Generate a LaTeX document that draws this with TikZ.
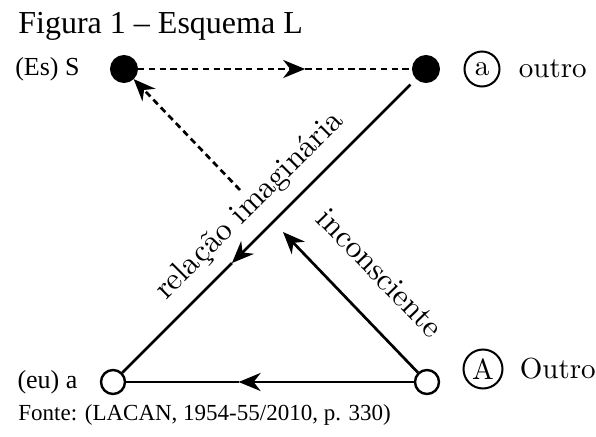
\documentclass[tikz,border=0pt]{standalone}
\usepackage{fontspec}
\newfontfamily\timesfont{Liberation Serif}
\newfontfamily\lmfont{lmroman10-regular}[Extension=.otf]
\usetikzlibrary{arrows.meta,calc,positioning}
\newcommand\lmlabel{\lmfont\fontsize{14.5}{17}\selectfont}
\newcommand\lmslope{\lmfont\fontsize{15.8}{19}\selectfont}
\tikzset{
  every node/.style={text=black},
  dot/.style={circle, draw, fill=black, line width=1pt,
    minimum size=13pt, inner sep=0pt},
  ring/.style={circle, draw, fill=white, line width=1.2pt,
    minimum size=12pt, inner sep=0pt},
  letter/.style={circle, draw, line width=1pt, inner sep=0pt,
    font=\lmlabel},
  lab/.style={font=\lmlabel, inner sep=0pt},
  slope/.style={font=\lmslope, inner sep=0pt},
  side/.style={font=\timesfont\fontsize{13}{15}\selectfont, inner sep=0pt},
  caption/.style={font=\timesfont\fontsize{16}{19}\selectfont, inner sep=0pt},
  link/.style={line width=1.35pt},
  dashlink/.style={link, dash pattern=on 3.2pt off 2.2pt},
  headed/.style={-{Stealth[length=11pt,width=9pt,inset=3.5pt]}}
}
\begin{document}
\begin{tikzpicture}[x=0.5pt,y=0.5pt]
\useasboundingbox (0,0) rectangle (596,436);

% Title and source
\node[caption, anchor=base west] (title) at (18,403) {Figura 1 – Esquema L};
\node[side, font=\timesfont\fontsize{11.5}{14}\selectfont, anchor=base west]
  (source) at (18,16) {Fonte: (LACAN, 1954-55/2010, p. 330)};

% The four corners of the schema
\node[dot] (S) at (124,367) {};
\node[dot] (ap) at (426,367) {};
\node[ring] (ego) at (113,54) {};
\node[ring] (A) at (427,54) {};

\node[side, left=15pt of S] (Slab) {(Es) S};
\node[side, left=11pt of ego] (egolab) {(eu) a};
\node[letter, minimum size=17.5pt] (la) at (482,367) {a};
\node[lab, right=9pt of la] (outro) {outro};
\node[letter, minimum size=19.5pt] (lA) at (483,67) {A};
\node[lab, right=8pt of lA] (Outro) {Outro};

% Connectors
\coordinate (m1) at ($(S)!0.6!(ap)$);
\draw[dashlink, headed] (S) -- (m1);
\draw[dashlink] (m1) -- (ap);

\coordinate (d0) at (240,246);
\draw[dashlink, headed] (d0) -- (S);

\coordinate (m2) at ($(ap)!0.62!(ego)$);
\draw[link, headed, shorten <=4pt] (ap) -- (m2);
\draw[link] (m2) -- (ego);

\coordinate (i1) at (283,204);
\draw[link, headed] (A) -- (i1);

\coordinate (m3) at ($(A)!0.6!(ego)$);
\draw[link, headed] (A) -- (m3);
\draw[link] (m3) -- (ego);

% Sloped labels
\node[slope, rotate=45] (rel) at (250,230) {relação imaginária};
\node[slope, rotate=-46] (inc) at (380,163) {inconsciente};

\end{tikzpicture}
\end{document}
